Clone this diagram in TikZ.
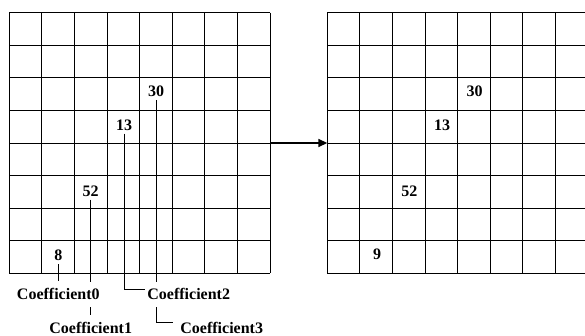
\documentclass[tikz,border=0pt]{standalone}
\usepackage{fontspec}
\setmainfont{Liberation Serif}[Ligatures=CommonOff]
\usetikzlibrary{arrows.meta,backgrounds}
\begin{document}
\begin{tikzpicture}[x=1pt,y=-1pt,
  gridline/.style={line width=0.9pt},
  gridbox/.style={minimum width=260.7pt, minimum height=260.6pt, inner sep=0pt, outer sep=0pt},
  num/.style={font=\fontsize{16}{19}\selectfont\bfseries, inner sep=3pt},
  coef/.style={font=\fontsize{16}{19}\selectfont\bfseries, fill=white, inner xsep=2pt, inner ysep=7pt},
  link/.style={line width=0.8pt},
  flow/.style={line width=1.6pt, -{Triangle[length=9pt,width=8pt]}}]
\clip (0,0) rectangle (585,336);
% grids
\node[gridbox] (gL) at (139.65,143) {};
\node[gridbox] (gR) at (457.65,143) {};
\foreach \i in {0,...,8} {
  \draw[gridline] (9.3+\i*32.5875,12.7) -- (9.3+\i*32.5875,273.3);
  \draw[gridline] (9.3,12.7+\i*32.575) -- (270,12.7+\i*32.575);
  \draw[gridline] (327.3+\i*32.5875,12.7) -- (327.3+\i*32.5875,273.3);
  \draw[gridline] (327.3,12.7+\i*32.575) -- (588,12.7+\i*32.575);
}
% numbers left
\node[num] (n30) at (156,91.5) {30};
\node[num] (n13) at (124,125) {13};
\node[num] (n52) at (90.7,191) {52};
\node[num] (n8) at (58.3,255.5) {8};
% numbers right
\node[num] (m30) at (474.7,91.5) {30};
\node[num] (m13) at (442,125) {13};
\node[num] (m52) at (409.3,191) {52};
\node[num] (m9) at (377,254.5) {9};
% labels
\node[coef] (c0) at (58.3,294.3) {Coefficient0};
\node[coef] (c1) at (90.7,328) {Coefficient1};
\node[coef] (c2) at (188.7,294.3) {Coefficient2};
\node[coef] (c3) at (221.7,328) {Coefficient3};
% arrow
\draw[flow] (gL.east) -- (gR.west);
\begin{pgfonlayer}{background}
\fill[white] (0,0) rectangle (585,336);
\draw[link] (n8) -- (c0);
\draw[link] (n52) -- (c1);
\draw[link] (n13) |- ([yshift=5pt]c2.west);
\draw[link] (n30) |- ([xshift=-5pt,yshift=6pt]c3.west);
\end{pgfonlayer}
\end{tikzpicture}
\end{document}
